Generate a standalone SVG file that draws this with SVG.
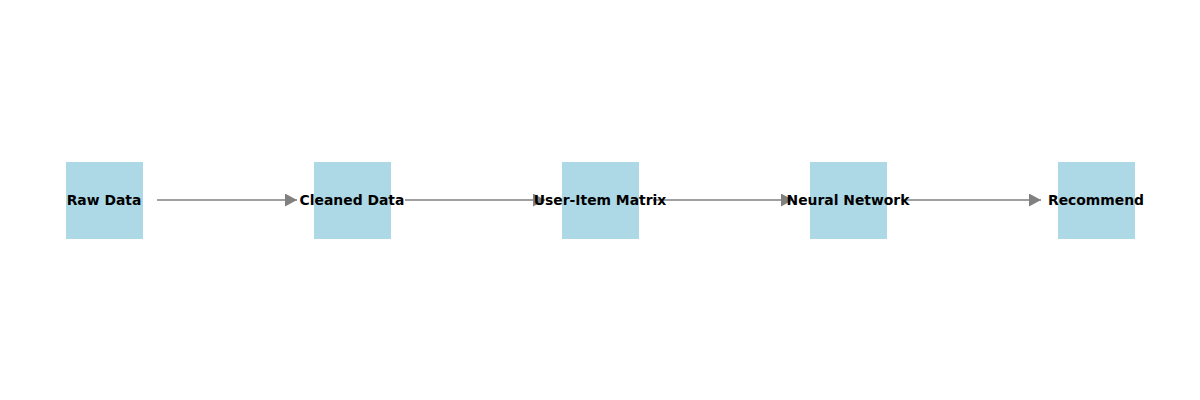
<svg xmlns="http://www.w3.org/2000/svg" width="1200" height="400" viewBox="0 0 1200 400">
<defs>
<style>
.node rect{fill:#ADD8E6}
.node text{font-family:"DejaVu Sans",sans-serif;font-weight:bold;font-size:13.9px;fill:#000;text-anchor:middle}
.edge{stroke:#808080;stroke-width:1.4;fill:none}
</style>
<marker id="arr" viewBox="0 0 12 13" refX="12" refY="6.5" markerWidth="12" markerHeight="13" markerUnits="userSpaceOnUse" orient="auto">
<path d="M0,0 L12,6.5 L0,13 Z" fill="#808080"/>
</marker>
</defs>
<rect width="1200" height="400" fill="#fff"/>
<g id="edges">
<line class="edge" x1="157" y1="200" x2="297" y2="200" marker-end="url(#arr)"/>
<line class="edge" x1="405" y1="200" x2="545" y2="200" marker-end="url(#arr)"/>
<line class="edge" x1="653" y1="200" x2="793" y2="200" marker-end="url(#arr)"/>
<line class="edge" x1="901" y1="200" x2="1041" y2="200" marker-end="url(#arr)"/>
</g>
<g id="node-raw" class="node"><rect x="66" y="162" width="77" height="77"/><text x="104" y="204.8">Raw Data</text></g>
<g id="node-cleaned" class="node"><rect x="314" y="162" width="77" height="77"/><text x="352" y="204.8">Cleaned Data</text></g>
<g id="node-matrix" class="node"><rect x="562" y="162" width="77" height="77"/><text x="600" y="204.8">User-Item Matrix</text></g>
<g id="node-nn" class="node"><rect x="810" y="162" width="77" height="77"/><text x="848" y="204.8">Neural Network</text></g>
<g id="node-rec" class="node"><rect x="1058" y="162" width="77" height="77"/><text x="1096" y="204.8">Recommend</text></g>
</svg>
